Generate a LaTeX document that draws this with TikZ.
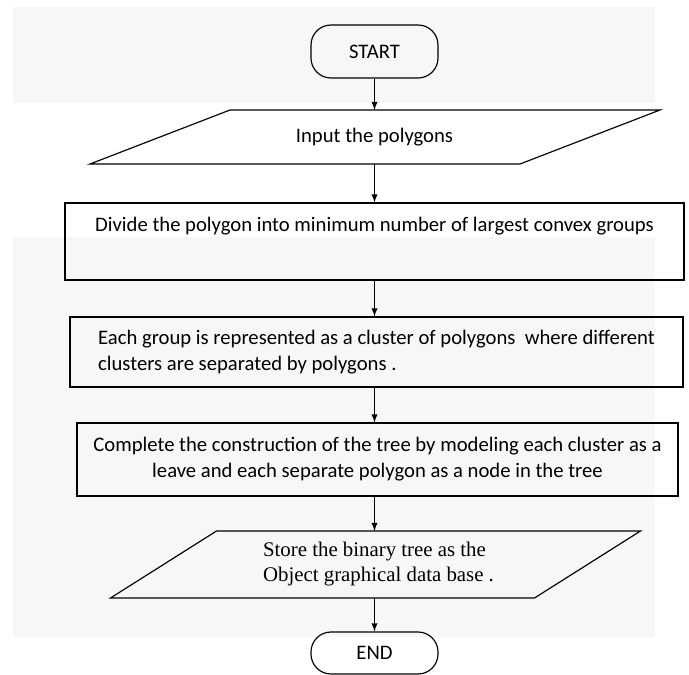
\documentclass[tikz,border=0pt]{standalone}
\usepackage{fontspec}
\setmainfont{Carlito}
\newfontfamily\timesfont{Liberation Serif}
\usetikzlibrary{calc}

\tikzset{
	term/.style = {draw, rounded corners=12pt, minimum width=76.2pt},
	io/.style = {outer sep=0pt}
}

\begin{document}
\begin{tikzpicture}[x=0.6pt, y=-0.6pt, line width=0.7pt, font=\fontsize{12.4}{15.6}\selectfont]
	\useasboundingbox (0,0) rectangle (689,675);
	\fill [black!3] (13,7) rectangle (655,103);
	\fill [black!3] (13,237) rectangle (655,637);

	\node (s)[term, minimum height=31.8pt] at (374.5,51.5) {START};
	\node (a)[io, minimum width=258pt, minimum height=32.4pt] at (374.5,137) {Input the polygons};
	\draw ($(a.north west)+(70.5,0)$) -- ($(a.north east)+(70.5,0)$) -- ($(a.south east)+(-69.5,0)$) -- ($(a.south west)+(-69.5,0)$) -- cycle;
	\node (b)[draw, minimum width=371.4pt, minimum height=46.2pt, align=center] at (374.5,241.5) {
		Divide the polygon into minimum number of largest convex groups\\ \strut};
	\node (c)[draw, minimum width=367.8pt, minimum height=42pt, align=left] at (376.5,352) {
		Each group is represented as a cluster of polygons~ where different\\
		clusters are separated by polygons .};
	\node (d)[draw, minimum width=360.6pt, minimum height=43.8pt, align=center] at (377.5,459.5) {
		Complete the construction of the tree by modeling each cluster as a\\
		leave and each separate polygon as a node in the tree};
	\node (e)[io, minimum width=254.4pt, minimum height=40.2pt, align=left, font=\timesfont\fontsize{12.5}{15}\selectfont] at (378.5,564.5) {
		Store the binary tree as the\\
		Object graphical data base .};
	\draw ($(e.north west)+(50,0)$) -- ($(e.north east)+(50,0)$) -- ($(e.south east)+(-56,0)$) -- ($(e.south west)+(-56,0)$) -- cycle;
	\node (f)[term, minimum height=25.2pt] at (374.5,653) {END};

	\draw [-latex](s)--(a.north);
	\draw [-latex](a)--(b);
	\draw [-latex](b.south)--(b.south|-c.north);
	\draw [-latex](b.south|-c.south)--(b.south|-d.north);
	\draw [-latex](b.south|-d.south)--(b.south|-e.north);
	\draw [-latex](b.south|-e.south)--(f);
\end{tikzpicture}
\end{document}
